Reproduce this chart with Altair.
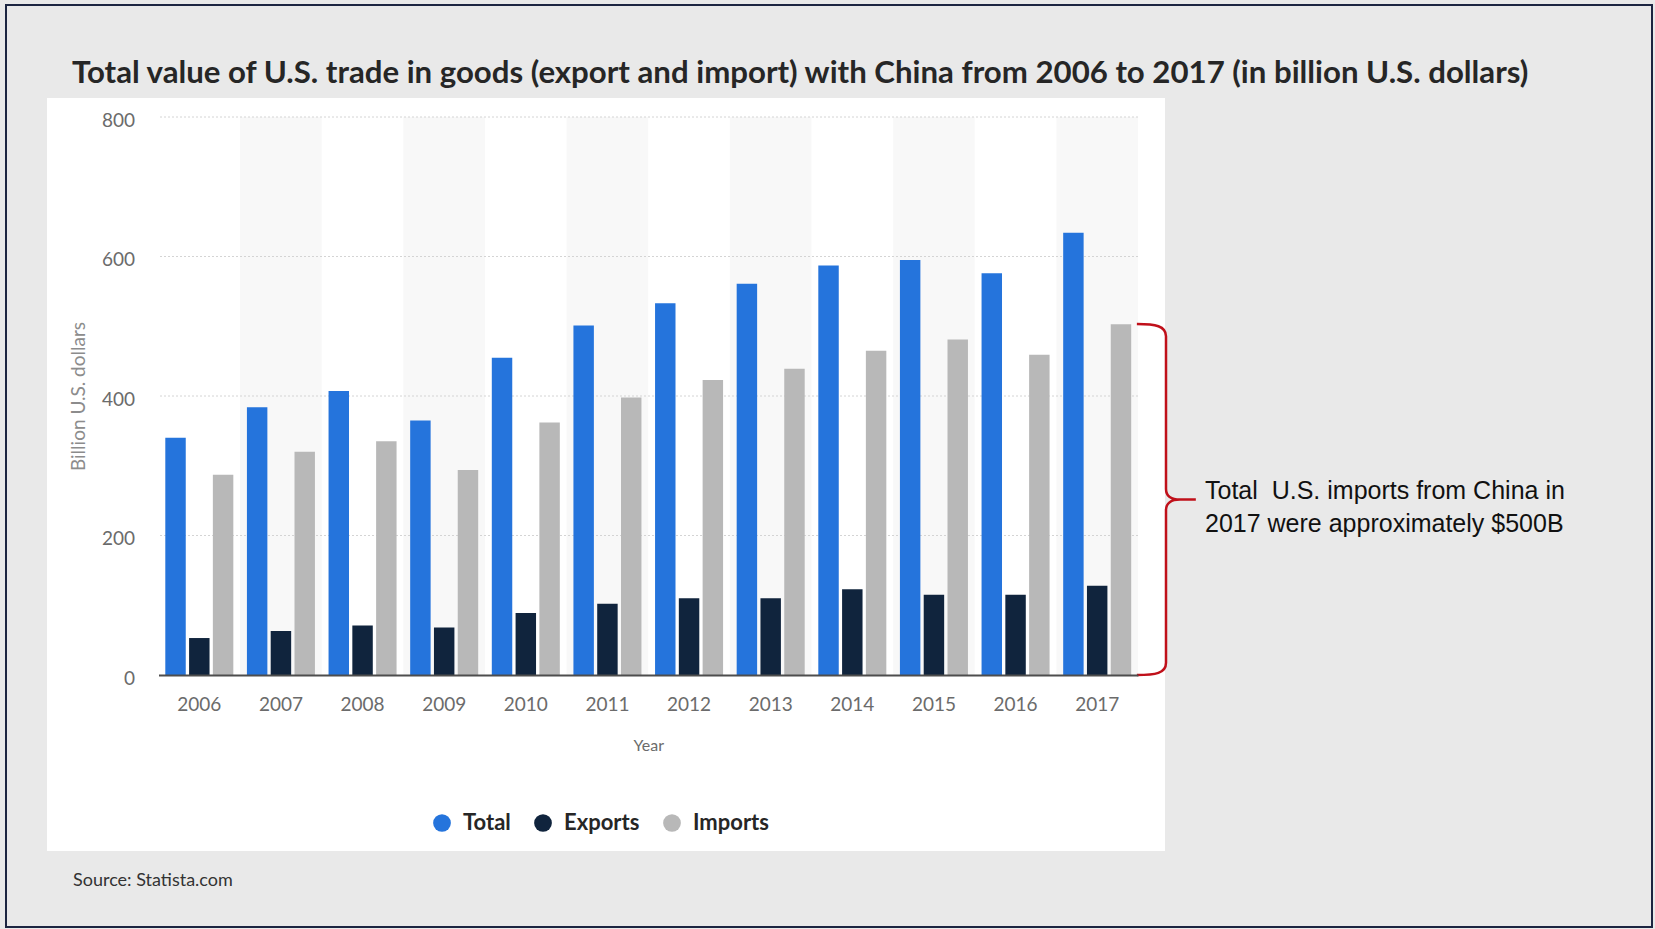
import altair as alt
import pandas as pd

# ---------------- data ----------------
years = ["2006", "2007", "2008", "2009", "2010", "2011",
         "2012", "2013", "2014", "2015", "2016", "2017"]
total = [340, 384, 407, 365, 455, 501, 533, 561, 587, 595, 576, 634]
exports = [53, 63, 71, 68, 89, 102, 110, 110, 123, 115, 115, 128]
imports = [287, 320, 335, 294, 362, 398, 423, 439, 465, 481, 459, 503]

series_names = ["Total", "Exports", "Imports"]
series_colors = ["#2574dc", "#10243d", "#b8b8b8"]
y_ticks = [0, 200, 400, 600, 800]
grid_values = [200, 400, 600, 800]

title_text = ("Total value of U.S. trade in goods (export and import) with China "
              "from 2006 to 2017 (in billion U.S. dollars)")
note_lines = ["Total \u00a0U.S. imports from China in", "2017 were approximately $500B"]
source_text = "Source: Statista.com"

# ---------------- tables ----------------
rows = []
for i, y in enumerate(years):
    for name, vals in zip(series_names, [total, exports, imports]):
        rows.append({"year": y, "series": name, "value": vals[i]})
bars_df = pd.DataFrame(rows)
bands_df = pd.DataFrame({"year": [y for i, y in enumerate(years) if i % 2 == 1],
                         "value": [y_ticks[-1]] * 6})
grid_df = pd.DataFrame({"value": grid_values})
brace_df = pd.DataFrame({"value": [imports[-1] / 2]})
one = pd.DataFrame({"d": [0]})

# ---------------- layout ----------------
W, H = 979.5, 558
PL, PT = 158.5, 117
PR, PB = 1655 - PL - W, 929 - PT - H

HEAD = "Lato, Open Sans, sans-serif"
TICKFONT = "Lato, Open Sans, sans-serif"

X = alt.X(
    "year:N", title="Year", sort=years,
    scale=alt.Scale(paddingInner=0.1667, paddingOuter=0.0833),
    axis=alt.Axis(labelAngle=0, ticks=False, labelPadding=20, labelFont=TICKFONT,
                  labelFontSize=19, labelColor="#6b6b6b", domainColor="#4d4d4d",
                  domainWidth=2, zindex=1, titleFont=TICKFONT, titleFontSize=16,
                  titleFontWeight="normal", titleColor="#6b6b6b",
                  titleX=W / 2, titleY=70, titleBaseline="middle"),
)
Y = alt.Y(
    "value:Q", title="Billion U.S. dollars",
    scale=alt.Scale(domain=[y_ticks[0], y_ticks[-1]], nice=False),
    axis=alt.Axis(values=y_ticks, grid=False, domain=False, ticks=False, zindex=1,
                  labelPadding=24, labelOffset=3, labelFont=TICKFONT, labelFontSize=19,
                  labelColor="#6b6b6b", titleFont=TICKFONT, titleFontSize=19,
                  titleFontWeight="normal", titleColor="#8c8c8c",
                  titleX=-80.5, titleY=279, titleAngle=-90,
                  titleAlign="center", titleBaseline="middle"),
)

frame = alt.Chart(one).mark_rect(
    fill="#e9e9e9", stroke="#1c2541", strokeWidth=2
).encode(x=alt.value(6 - PL), x2=alt.value(1652 - PL),
         y=alt.value(5 - PT), y2=alt.value(927 - PT))

panel = alt.Chart(one).mark_rect(fill="white").encode(
    x=alt.value(47 - PL), x2=alt.value(1165 - PL),
    y=alt.value(98 - PT), y2=alt.value(851 - PT))

bands = alt.Chart(bands_df).mark_bar(
    color="#f8f8f8", width=alt.RelativeBandSize(1.2)
).encode(x=X, y=Y)

grid = alt.Chart(grid_df).mark_rule(
    color="#d4d4d4", strokeDash=[2, 2], strokeWidth=1
).encode(y=Y)

bars = alt.Chart(bars_df).mark_bar().encode(
    x=X,
    y=Y,
    xOffset=alt.XOffset("series:N", sort=series_names,
                        scale=alt.Scale(paddingInner=0.14, paddingOuter=0)),
    color=alt.Color(
        "series:N",
        scale=alt.Scale(domain=series_names, range=series_colors),
        legend=alt.Legend(
            orient="none", direction="horizontal", legendX=431 - PL,
            legendY=812 - PT, title=None, symbolType="circle", symbolSize=314,
            symbolStrokeWidth=0, symbolOpacity=1, labelFont=HEAD,
            labelFontSize=22, labelFontWeight="bold", labelColor="#262626",
            labelOffset=10, columnPadding=21, padding=0),
    ),
)

brace_path = ("M -0.166 -1 C -0.06 -1 0 -0.99 0 -0.93 L 0 -0.06 "
              "C 0 -0.02 0.03 0 0.08 0 L 0.17 0 M 0.08 0 "
              "C 0.03 0 0 0.02 0 0.06 L 0 0.93 C 0 0.99 -0.06 1 -0.166 1")
brace = alt.Chart(brace_df).mark_point(
    shape=brace_path, filled=False, stroke="#c0101a", strokeWidth=2.5,
    opacity=1, size=351 ** 2
).encode(x=alt.value(1166 - PL), y=Y)

title = alt.Chart(one).mark_text(
    align="left", baseline="alphabetic", font=HEAD, fontSize=31.2,
    fontWeight="bold", color="#262626"
).encode(x=alt.value(72 - PL), y=alt.value(83 - PT), text=alt.value(title_text))

note = alt.Chart(one).mark_text(
    align="left", baseline="alphabetic", font="Liberation Sans, Arial, sans-serif",
    fontSize=25, lineHeight=32.5, color="#111111"
).encode(x=alt.value(1205 - PL), y=alt.value(499 - PT), text=alt.value(note_lines))

source = alt.Chart(one).mark_text(
    align="left", baseline="alphabetic", font=HEAD, fontSize=18, color="#333333"
).encode(x=alt.value(73 - PL), y=alt.value(886 - PT), text=alt.value(source_text))

chart = alt.layer(
    frame, panel, bands, grid, bars, brace, title, note, source
).properties(
    width=W, height=H,
    autosize=alt.AutoSizeParams(type="none"),
    padding={"left": PL, "top": PT, "right": PR, "bottom": PB},
    background="#e9e9e9",
).configure_view(stroke=None)

chart.save("out.html", embed_options={"renderer": "svg", "actions": False})
